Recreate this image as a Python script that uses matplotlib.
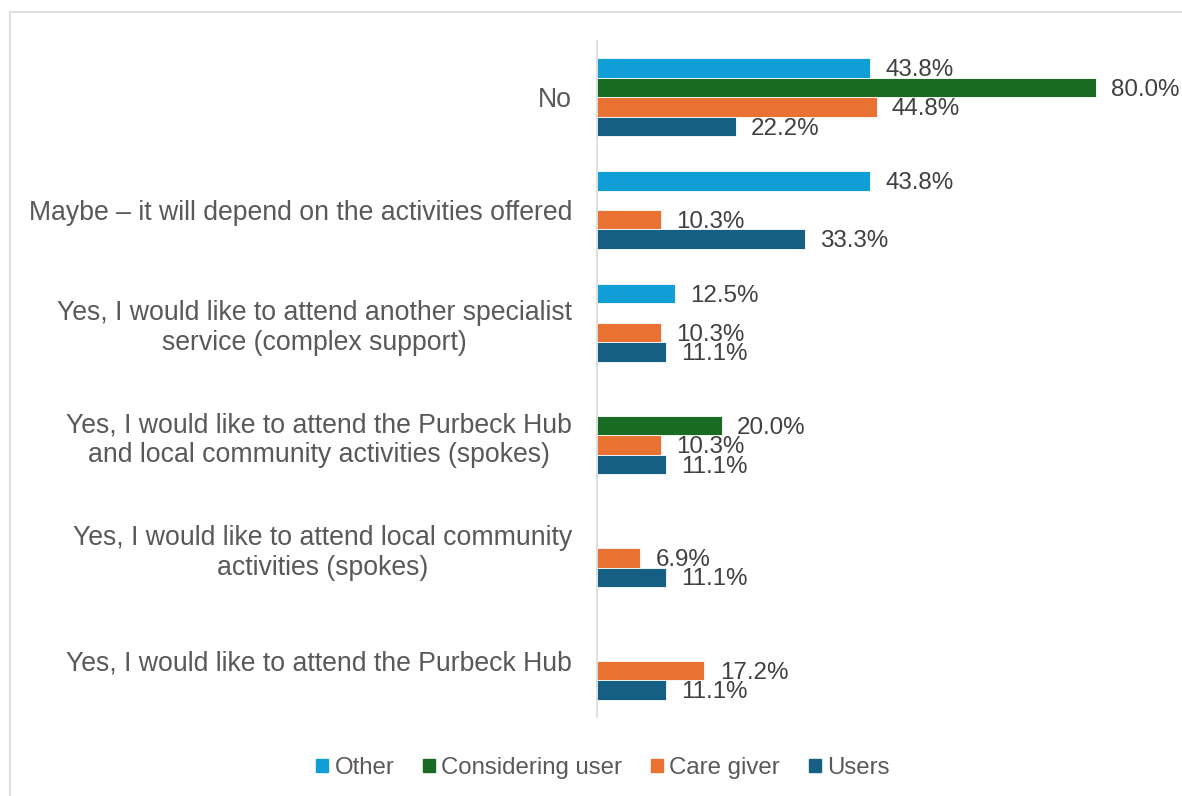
import matplotlib.pyplot as plt
import matplotlib.patches as mpatches
import numpy as np

# Survey answers (top to bottom) and share of each respondent group, in %
answers = [
    "No",
    "Maybe \u2013 it will depend on the activities offered",
    "Yes, I would like to attend another specialist\nservice (complex support)",
    "Yes, I would like to attend the Purbeck Hub\nand local community activities (spokes)",
    "Yes, I would like to attend local community\nactivities (spokes)",
    "Yes, I would like to attend the Purbeck Hub",
]
groups = ["Other", "Considering user", "Care giver", "Users"]
other = [43.8, 43.8, 12.5, 0, 0, 0]
considering = [80.0, 0, 0, 20.0, 0, 0]
care_giver = [44.8, 10.3, 10.3, 10.3, 6.9, 17.2]
users = [22.2, 33.3, 11.1, 11.1, 11.1, 11.1]

colors = ["#0F9ED5", "#196B24", "#E97132", "#156082"]
series = [other, considering, care_giver, users]

plt.rcParams['font.family'] = ['Liberation Sans', 'DejaVu Sans']

fig = plt.figure(figsize=(11.82, 7.96), dpi=100)
ax = fig.add_axes([0.5051, 0.0992, 0.4751, 0.8493])

# thin grey frame round the chart
fig.patches.append(mpatches.Rectangle((10 / 1182, -0.1), 1.2, 1 - 12 / 796 + 0.1,
                                      transform=fig.transFigure, fill=False,
                                      edgecolor="#d9d9d9", linewidth=1.2))

y = np.arange(len(answers))
h = 0.173
for i, (vals, col) in enumerate(zip(series, colors)):
    pos = y + (i - 1.5) * h
    vals = np.array(vals)
    keep = vals > 0
    ax.barh(pos[keep], vals[keep], height=h, color=col, edgecolor="white", linewidth=0.6)
    for p, v in zip(pos[keep], vals[keep]):
        ax.annotate(f"{v:.1f}%", (v, p), xytext=(11, -1.5), textcoords="offset points",
                    ha="left", va="center", fontsize=17.4, color="#404040")

ax.set_xlim(0, 90)
ax.set_ylim(len(answers) - 0.5, -0.5)
ax.set_yticks(y)
ax.set_yticklabels(answers, fontsize=19.2, color="#595959", multialignment="center",
                   linespacing=1.2)
ax.tick_params(axis="y", length=0, pad=18)
ax.set_xticks([])
for s in ["top", "right", "bottom"]:
    ax.spines[s].set_visible(False)
ax.spines["left"].set_color("#d9d9d9")
ax.spines["left"].set_linewidth(1.2)

handles = [mpatches.Patch(color=c, label=g) for g, c in zip(groups, colors)]
fig.legend(handles=handles, loc="center", bbox_to_anchor=(0.51, 0.035), ncol=4,
           frameon=False, fontsize=17.3, handlelength=0.5, handleheight=0.5,
           handletextpad=0.25, columnspacing=1.2, labelcolor="#595959")

fig.savefig("out.png", dpi=100)
